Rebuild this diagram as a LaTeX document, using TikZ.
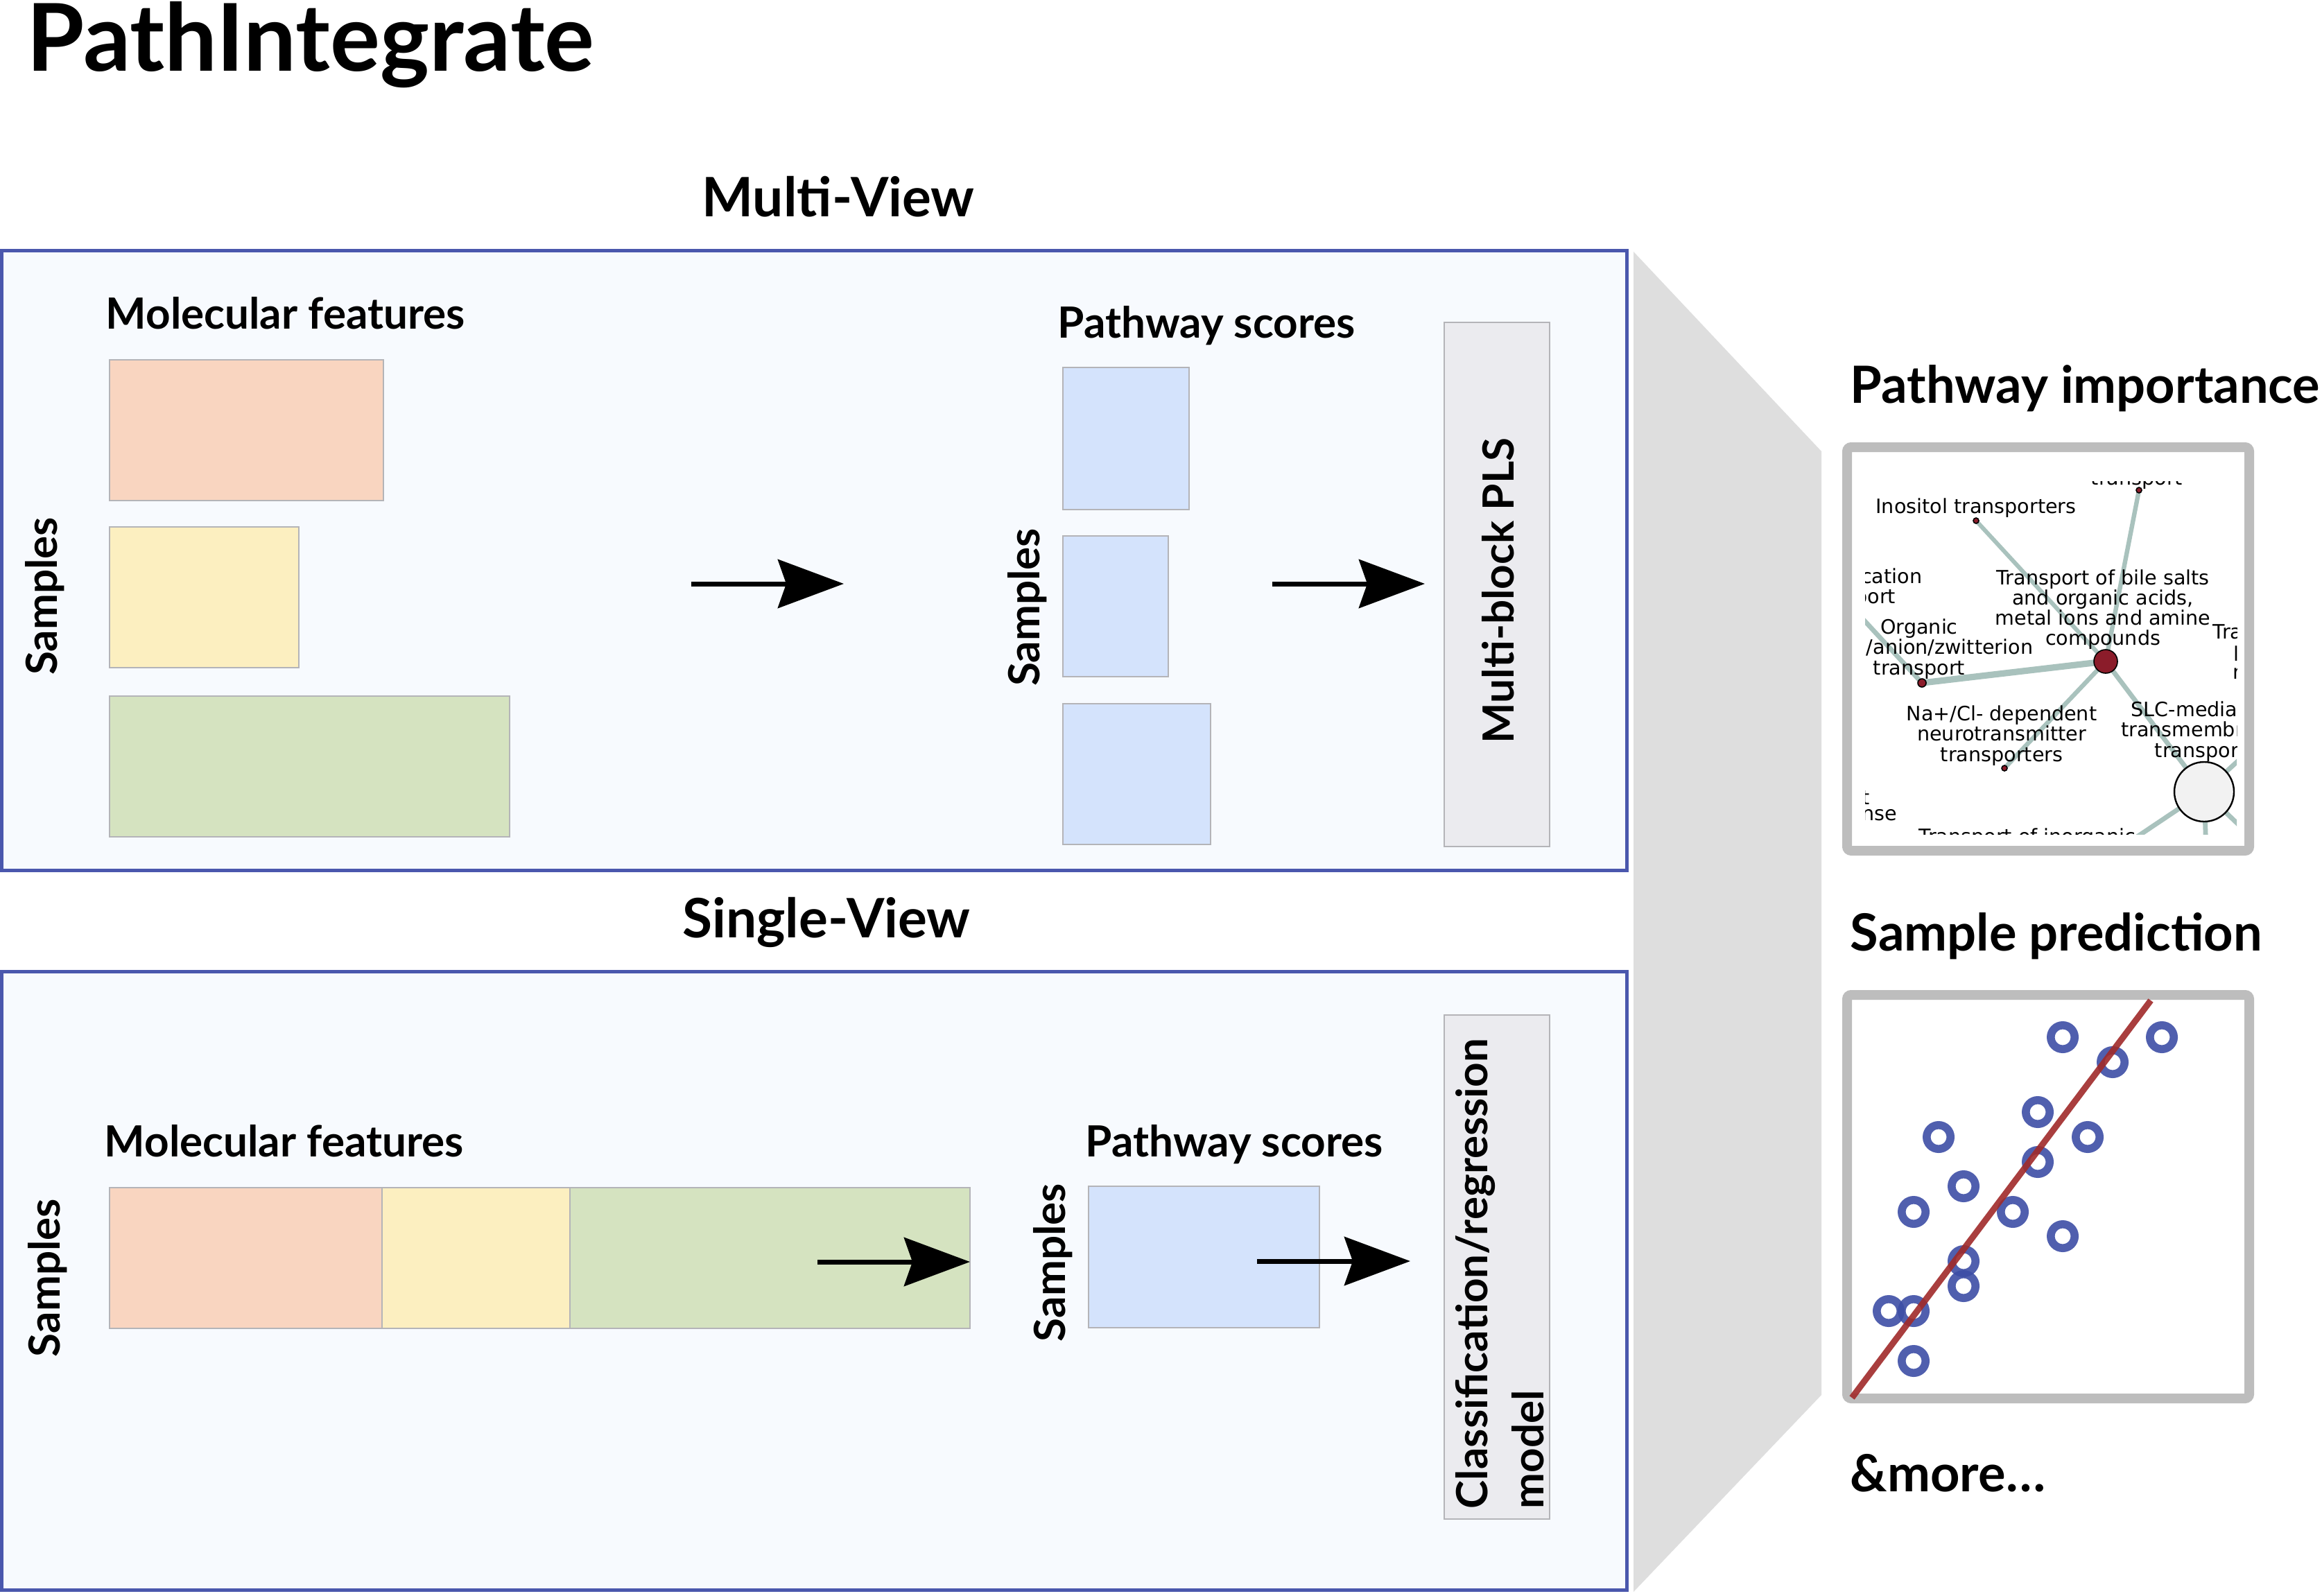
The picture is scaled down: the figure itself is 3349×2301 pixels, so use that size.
\documentclass[tikz,border=0pt]{standalone}
\usepackage{fontspec}
\setmainfont{Lato}
\newfontfamily\netfont{DejaVu Sans}
\usetikzlibrary{arrows.meta}
\definecolor{panelfill}{HTML}{F7FAFE}
\definecolor{panelline}{HTML}{4A57AD}
\definecolor{orangeblk}{HTML}{F9D5C0}
\definecolor{yellowblk}{HTML}{FCEFC0}
\definecolor{greenblk}{HTML}{D5E3C0}
\definecolor{blueblk}{HTML}{D4E3FC}
\definecolor{blkline}{HTML}{B4B4B8}
\definecolor{modelfill}{HTML}{EBEBEF}
\definecolor{trapfill}{HTML}{DEDEDE}
\definecolor{framegray}{HTML}{BDBDBD}
\definecolor{edgecol}{HTML}{A9C2BD}
\definecolor{hubred}{HTML}{8B1C2A}
\definecolor{dotblue}{HTML}{3D4EA6}
\definecolor{fitred}{HTML}{A02A2A}
\newcommand\bx[6]{\node[blk,fill=#1,minimum width={(#4-#2)*0.25pt},minimum height={(#5-#3)*0.25pt}] (#6) at (#2,#3) {};}
\begin{document}
\begin{tikzpicture}[x=0.25pt,y=-0.25pt,
  panel/.style={draw=panelline,line width=1.25pt,fill=panelfill,inner sep=0pt,outer sep=0pt,anchor=north west},
  blk/.style={draw=blkline,line width=0.5pt,inner sep=0pt,outer sep=0pt,anchor=north west},
  lbl/.style={font=\bfseries\fontsize{15.5}{18}\selectfont,inner sep=0pt},
  head/.style={font=\bfseries\fontsize{19.6}{23}\selectfont,inner sep=0pt},
  side/.style={font=\bfseries\fontsize{18.5}{22}\selectfont,inner sep=0pt},
  flow/.style={line width=1.75pt,-{Stealth[length=23.75pt,width=17.5pt,inset=3pt]}},
  net/.style={font=\netfont\fontsize{7.15}{7.3}\selectfont,align=center,inner sep=0pt},
  edge/.style={draw=edgecol,line width=1.7pt},
  dot/.style={circle,draw=black,line width=0.4pt,fill=hubred,inner sep=0pt,minimum size=2pt},
  ring/.style={circle,draw=dotblue,draw opacity=0.9,line width=2.9pt,inner sep=0pt,minimum size=8.6pt},
  frame/.style={draw=framegray,line width=3.5pt,rounded corners=1.5pt,fill=white,inner sep=0pt,outer sep=0pt,minimum width=145pt,minimum height=145.5pt}
]
\useasboundingbox (0,0) rectangle (3349,2301);
\fill[white] (0,0) rectangle (3349,2301);

% title
\node[font=\bfseries\fontsize{33.7}{38}\selectfont,inner sep=0pt,anchor=base west] (title) at (38,103) {PathIntegrate};

% zoom trapezoid
\fill[trapfill] (2356,363) -- (2627,651) -- (2627,2012) -- (2356,2296) -- cycle;

% panels
\node[panel,minimum width={2344*0.25pt},minimum height={894*0.25pt}] (mv) at (2.5,361.5) {};
\node[panel,minimum width={2344*0.25pt},minimum height={892*0.25pt}] (sv) at (2.5,1401.5) {};
\node[head,anchor=base] (mvlab) at (1209,312) {Multi-View};
\node[head,anchor=base] (svlab) at (1192,1352) {Single-View};

% ---- multi-view
\node[lbl,anchor=base west] (mf1) at (152,474) {Molecular features};
\bx{orangeblk}{158}{519}{553}{722}{m1}
\bx{yellowblk}{158}{760}{431}{963}{m2}
\bx{greenblk}{158}{1004}{735}{1207}{m3}
\node[lbl,rotate=90,anchor=base] (ms1) at (82,860) {Samples};
\coordinate (a1s) at (997,842);
\coordinate (a1e) at (1217,842);
\draw[flow] (a1s) -- (a1e);
\node[lbl,anchor=base west] (ps1) at (1525,487) {Pathway scores};
\bx{blueblk}{1533}{530}{1715}{735}{p1}
\bx{blueblk}{1533}{773}{1685}{976}{p2}
\bx{blueblk}{1533}{1015}{1746}{1218}{p3}
\node[lbl,rotate=90,anchor=base] (ms2) at (1499,876) {Samples};
\coordinate (a2s) at (1835,842);
\coordinate (a2e) at (2055,842);
\draw[flow] (a2s) -- (a2e);
\bx{modelfill}{2083}{465}{2235}{1221}{pls}
\node[lbl,rotate=90,anchor=base] (plslab) at (2183,852) {Multi-block PLS};

% ---- single-view
\node[lbl,anchor=base west] (mf2) at (150,1668) {Molecular features};
\bx{orangeblk}{158}{1713}{551}{1916}{s1}
\bx{yellowblk}{551}{1713}{822}{1916}{s2}
\bx{greenblk}{822}{1713}{1399}{1916}{s3}
\node[lbl,rotate=90,anchor=base] (ss1) at (86,1843) {Samples};
\coordinate (a3s) at (1179,1820);
\coordinate (a3e) at (1399,1820);
\draw[flow] (a3s) -- (a3e);
\node[lbl,anchor=base west] (ps2) at (1565,1668) {Pathway scores};
\bx{blueblk}{1570}{1711}{1903}{1915}{sp}
\node[lbl,rotate=90,anchor=base] (ss2) at (1536,1821) {Samples};
\coordinate (a4s) at (1813,1819);
\coordinate (a4e) at (2034,1819);
\draw[flow] (a4s) -- (a4e);
\bx{modelfill}{2083}{1464}{2235}{2191}{crm}
\node[lbl,rotate=90,anchor=base west] (crm1) at (2145,2177) {Classification/regression};
\node[lbl,rotate=90,anchor=base west] (crm2) at (2226,2177) {model};

% ---- right side
\node[side,anchor=base west] (pilab) at (2668,581) {Pathway importance};
\node[frame] (piframe) at (2954,936) {};
\node[side,anchor=base west] (splab) at (2668,1371) {Sample prediction};
\node[frame] (spframe) at (2954,1726) {};
\node[side,anchor=base west] (more) at (2668,2151) {\&more…};

% network
\begin{scope}
\clip (2690,694) rectangle (3226,1203);
\coordinate (Cc) at (3037,954);
\coordinate (Oc) at (2772,985);
\coordinate (Ic) at (2850,751);
\coordinate (Tc) at (3085,707);
\coordinate (Nc) at (2891,1108);
\coordinate (Wc) at (3179,1142);
\coordinate (o1) at (2650,853);
\coordinate (w1) at (3270,1059);
\coordinate (w2) at (3183,1260);
\coordinate (w3) at (3270,1229);
\coordinate (w4) at (2997,1264);
\draw[edge,line width=2.3pt] (Cc) -- (Oc);
\draw[edge,line width=1.5pt] (Cc) -- (Ic);
\draw[edge,line width=1.6pt] (Cc) -- (Tc);
\draw[edge,line width=1.6pt] (Cc) -- (Nc);
\draw[edge] (Cc) -- (Wc);
\draw[edge] (Oc) -- (o1);
\draw[edge] (Wc) -- (w1);
\draw[edge] (Wc) -- (w2);
\draw[edge] (Wc) -- (w3);
\draw[edge] (Wc) -- (w4);
\node[dot,minimum size=8.5pt] (hub) at (Cc) {};
\node[dot,minimum size=3pt] (org) at (Oc) {};
\node[dot,minimum size=2pt] (ino) at (Ic) {};
\node[dot,minimum size=2pt] (top) at (Tc) {};
\node[dot,minimum size=2pt] (nacl) at (Nc) {};
\node[circle,draw=black,line width=0.6pt,fill=black!5,inner sep=0pt,minimum size=21.5pt] (big) at (Wc) {};
\node[net,anchor=base west] (t0) at (3015,699) {transport};
\node[net] (t1) at (2850,733) {Inositol transporters};
\node[net] (t2) at (3033,879) {Transport of bile salts\\and organic acids,\\metal ions and amine\\compounds};
\node[net] (t3) at (2668,848) {Organic cation\\transport};
\node[net] (t4) at (2768,936) {Organic\\cation/anion/zwitterion\\transport};
\node[net] (t5) at (2887,1061) {Na+/Cl- dependent\\neurotransmitter\\transporters};
\node[net] (t6) at (3174,1055) {SLC-mediated\\transmembrane\\transport};
\node[net,anchor=west] (t7) at (3191,914) {Transport};
\node[net,anchor=west] (t7b) at (3221,943) {l};
\node[net,anchor=west] (t7c) at (3220,971) {r};
\node[net,anchor=east] (t8) at (2697,1150) {t};
\node[net,anchor=east] (t8b) at (2737,1178) {response};
\node[net,anchor=base west] (t9) at (2767,1216) {Transport of inorganic};
\end{scope}

% scatter
\foreach \px/\py [count=\i] in {2975/1496,3118/1496,3047/1532,2939/1604,2796/1640,3011/1640,2939/1676,2832/1711,2760/1748,2903/1748,2975/1783,2832/1819,2832/1855,2724/1891,2760/1891,2760/1963}
  \node[ring] (pt\i) at (\px,\py) {};
\coordinate (fa) at (2671,2016);
\coordinate (fb) at (3102,1443);
\draw[fitred,line width=2.25pt,opacity=0.9] (fa) -- (fb);
\end{tikzpicture}
\end{document}
